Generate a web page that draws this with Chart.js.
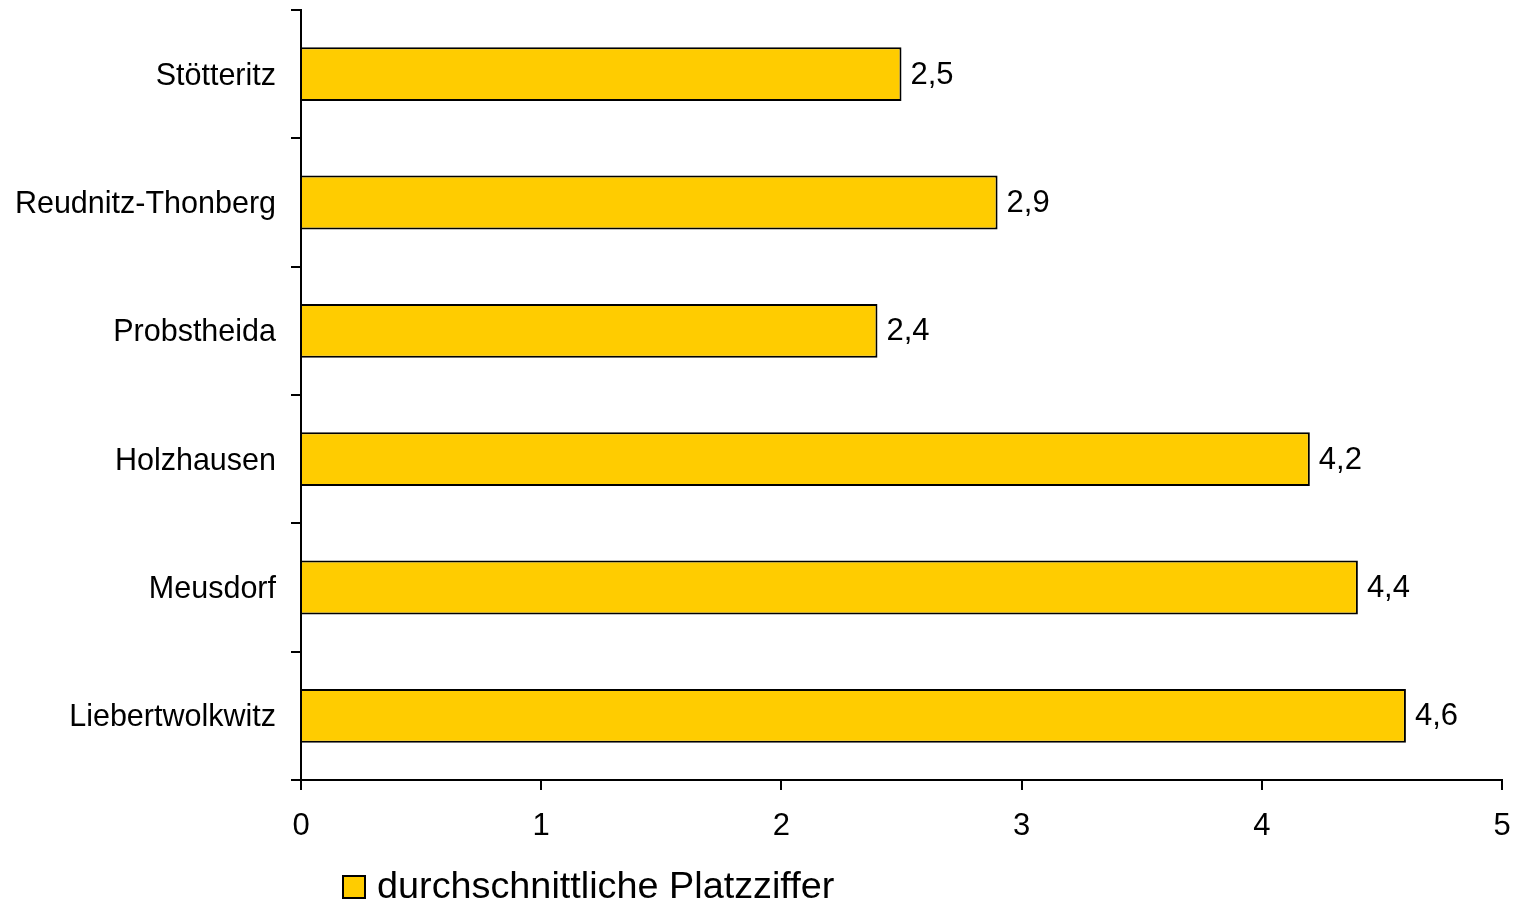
<!DOCTYPE html>
<html>
<head>
<meta charset="utf-8">
<script src="https://cdn.jsdelivr.net/npm/chart.js@4"></script>
<style>
  html, body { margin: 0; padding: 0; background: #fff; }
  #chart { display: block; }
</style>
</head>
<body>
<canvas id="chart" width="1518" height="903"></canvas>
<script>
// Werte aus der Grafik
const districts = ['Stötteritz', 'Reudnitz-Thonberg', 'Probstheida', 'Holzhausen', 'Meusdorf', 'Liebertwolkwitz'];
const platzziffer = [2.5, 2.9, 2.4, 4.2, 4.4, 4.6];
const seriesName = 'durchschnittliche Platzziffer';
const xTicks = [0, 1, 2, 3, 4, 5];

const FONT = "'Liberation Sans', Arial, sans-serif";

// value labels at the end of each bar, with comma as decimal separator
const valueLabels = {
  id: 'valueLabels',
  afterDatasetsDraw(chart) {
    const ctx = chart.ctx;
    const meta = chart.getDatasetMeta(0);
    ctx.save();
    ctx.font = '31px ' + FONT;
    ctx.fillStyle = '#000';
    ctx.textAlign = 'left';
    ctx.textBaseline = 'middle';
    meta.data.forEach((bar, i) => {
      const txt = platzziffer[i].toFixed(1).replace('.', ',');
      ctx.fillText(txt, bar.x + 9, bar.y + 1);
    });
    ctx.restore();
  }
};

// simple legend like the original (box + text, bottom left)
const bottomLegend = {
  id: 'bottomLegend',
  afterDraw(chart) {
    const ctx = chart.ctx;
    const ds = chart.data.datasets[0];
    ctx.save();
    ctx.fillStyle = ds.backgroundColor;
    ctx.strokeStyle = '#000';
    ctx.lineWidth = 2;
    ctx.fillRect(343, 876, 22, 22);
    ctx.strokeRect(343, 876, 22, 22);
    ctx.font = '37.8px ' + FONT;
    ctx.fillStyle = '#000';
    ctx.textBaseline = 'middle';
    ctx.fillText(ds.label, 377, 888);
    ctx.restore();
  }
};

new Chart(document.getElementById('chart'), {
  type: 'bar',
  data: {
    labels: districts,
    datasets: [{
      label: seriesName,
      data: platzziffer,
      backgroundColor: '#FFCC00',
      borderColor: '#000',
      borderWidth: 2,
      barPercentage: 0.42,
      categoryPercentage: 1.0
    }]
  },
  options: {
    indexAxis: 'y',
    responsive: false,
    animation: false,
    layout: { padding: { top: 10, right: 16, left: 0, bottom: 0 } },
    plugins: {
      legend: { display: false },
      tooltip: { enabled: false }
    },
    scales: {
      x: {
        min: 0,
        max: 5,
        afterFit: s => { s.height = 123; s.paddingLeft = 0; s.paddingRight = 0; },
        afterBuildTicks: s => { s.ticks = xTicks.map(v => ({ value: v })); },
        border: { color: '#000', width: 2 },
        grid: { drawOnChartArea: false, color: '#000', lineWidth: 2, tickLength: 10 },
        ticks: { color: '#000', font: { family: FONT, size: 31 }, padding: 18 }
      },
      y: {
        afterFit: s => { s.width = 301; s.paddingTop = 0; s.paddingBottom = 0; },
        border: { color: '#000', width: 2 },
        grid: { drawOnChartArea: false, color: '#000', lineWidth: 2, tickLength: 10, offset: true },
        ticks: { color: '#000', font: { family: FONT, size: 30.5 }, padding: 15, labelOffset: 2 }
      }
    }
  },
  plugins: [valueLabels, bottomLegend]
});
</script>
</body>
</html>
